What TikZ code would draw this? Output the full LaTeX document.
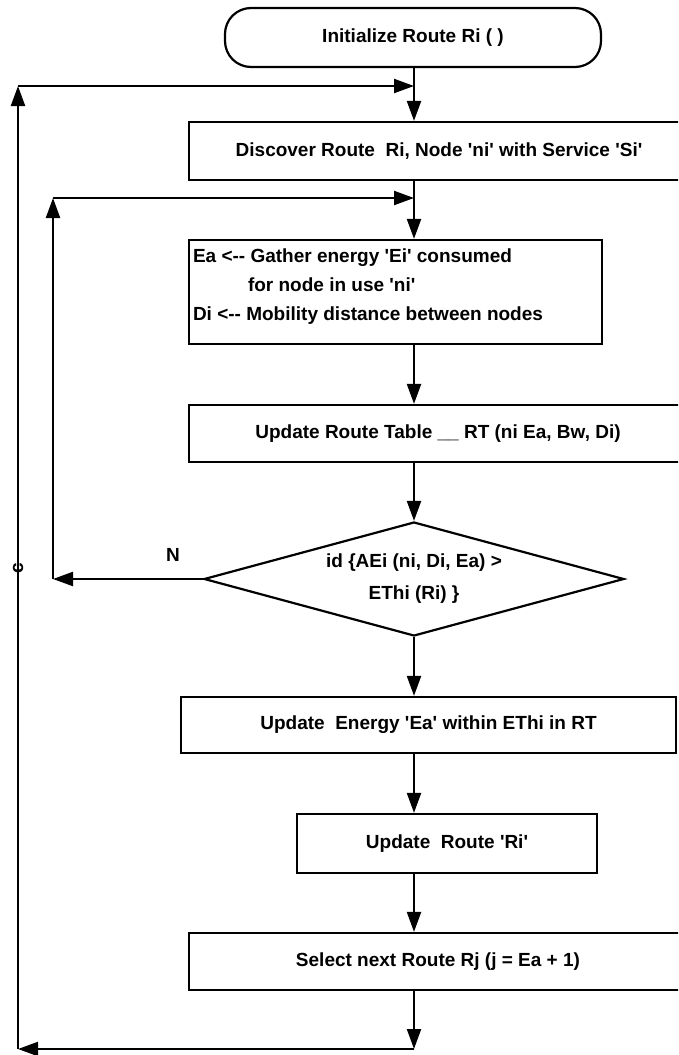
\documentclass[tikz,border=0pt]{standalone}
\usepackage{fontspec}
\newfontfamily\flowfont{Liberation Sans}
\usetikzlibrary{arrows.meta,shapes.geometric,calc}

\begin{document}
\begin{tikzpicture}[x=1pt,y=-1pt,line width=2.2pt,
  every node/.style={font=\flowfont\bfseries\fontsize{19}{23}\selectfont},
  flowbox/.style={draw,rectangle,inner sep=0pt},
  termbox/.style={draw,rectangle,rounded corners=26pt,inner sep=0pt,
    minimum width=376pt,minimum height=59pt},
  decbox/.style={draw,diamond,aspect=3.68,inner sep=0pt,minimum width=420pt,
    minimum height=114pt,align=center,font=\flowfont\bfseries\fontsize{19}{32}\selectfont},
  flow/.style={-{Triangle[length=20pt,width=14pt]}}]
  \useasboundingbox (0,0) rectangle (678,1055);
  \clip (0,0) rectangle (678,1055);
  \fill[white] (0,0) rectangle (678,1055);

  % steps of the route loop
  \node[termbox] (init) at (413,37.5) {Initialize Route Ri (~)};
  \node[flowbox,minimum width=500pt,minimum height=58pt] (discover) at (439,151)
    {Discover Route~~Ri, Node 'ni' with Service 'Si'};
  \node[flowbox,minimum width=413pt,minimum height=104pt] (gather) at (395.5,292) {};
  \node[anchor=north west,align=left,inner sep=0pt,
    font=\flowfont\bfseries\fontsize{19}{29}\selectfont] (gathertxt)
    at ([xshift=4pt,yshift=-9pt]gather.north west)
    {Ea <-- Gather energy 'Ei' consumed\\
     \hspace*{55pt}for node in use 'ni'\\
     Di <-- Mobility distance between nodes};
  \node[flowbox,minimum width=498pt,minimum height=57pt] (table) at (438,433.5)
    {Update Route Table \_\_ RT (ni Ea, Bw, Di)};
  \node[decbox] (check) at (414,579) {id \{AEi (ni, Di, Ea) >\\EThi (Ri) \}};
  \node[flowbox,minimum width=495pt,minimum height=56pt] (energy) at (428.5,725)
    {Update~~Energy 'Ea' within EThi in RT};
  \node[flowbox,minimum width=300pt,minimum height=59pt] (route) at (447,843.5)
    {Update~~Route 'Ri'};
  \node[flowbox,minimum width=498pt,minimum height=57pt] (select) at (438,961.5)
    {Select next Route Rj (j = Ea + 1)};

  % corners of the two loops
  \coordinate (axis) at (414,0);
  \coordinate (topjoin) at (414,86);
  \coordinate (topleft) at (18,86);
  \coordinate (botjoin) at (414,1049);
  \coordinate (botleft) at (18,1049);
  \coordinate (innerjoin) at (414,198);
  \coordinate (innerleft) at (53,198);
  \coordinate (noleft) at (53,579);

  \draw[flow] (init.south -| axis) -- (discover.north -| axis);
  \draw[flow] (discover.south -| axis) -- (gather.north -| axis);
  \draw[flow] (gather.south -| axis) -- (table.north -| axis);
  \draw[flow] (table.south -| axis) -- (check.north);
  \draw[flow] (check.south) -- (energy.north -| axis);
  \draw[flow] (energy.south -| axis) -- (route.north -| axis);
  \draw[flow] (route.south -| axis) -- (select.north -| axis);
  \draw[flow] (select.south -| axis) -- (botjoin);
  \draw[flow] (botjoin) -- (botleft);
  \draw[flow] (botleft) -- (topleft);
  \draw[flow] (topleft) -- (topjoin);
  \draw[flow] (check.west) -- (noleft);
  \draw[flow] (noleft) -- (innerleft);
  \draw[flow] (innerleft) -- (innerjoin);

  \node (nolabel) at (173,555) {N};
  \node[rotate=90] (clabel) at (18,568) {c};
\end{tikzpicture}
\end{document}
